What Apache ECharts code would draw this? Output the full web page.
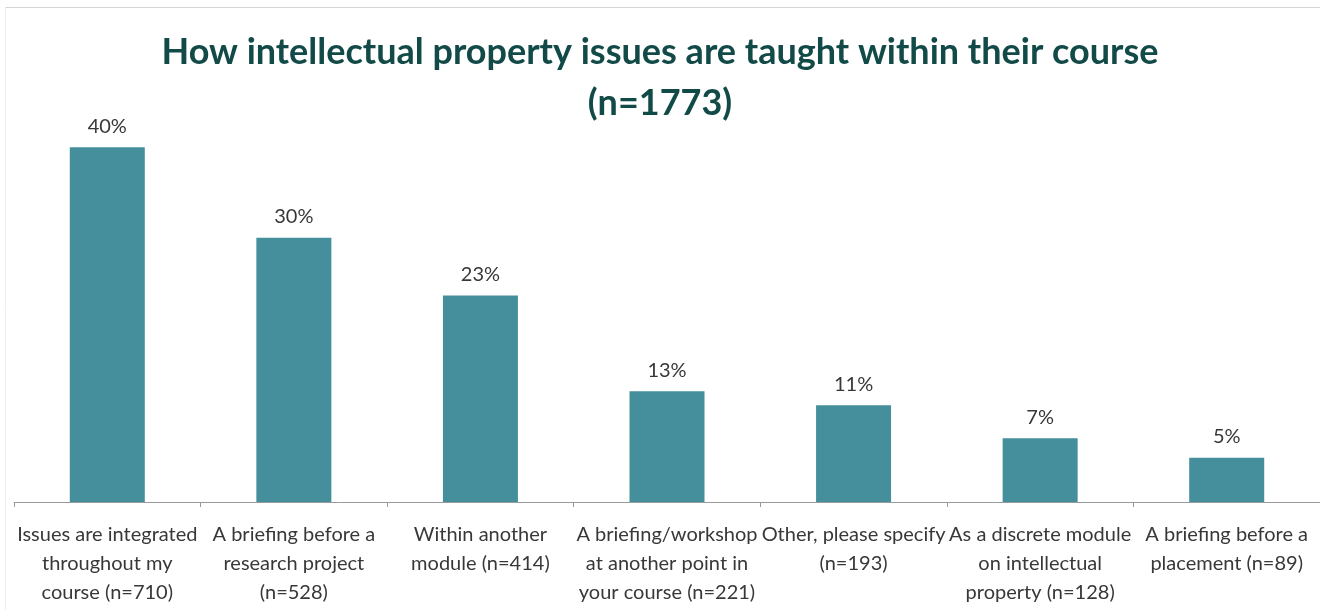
<!DOCTYPE html>
<html>
<head>
<meta charset="utf-8">
<script src="https://cdn.jsdelivr.net/npm/echarts@6/dist/echarts.min.js"></script>
<style>html,body{margin:0;padding:0;background:#fff;}#c{width:1320px;height:610px;}</style>
</head>
<body>
<div id="c"></div>
<script>
var categories = [
  'Issues are integrated\nthroughout my\ncourse (n=710)',
  'A briefing before a\nresearch project\n(n=528)',
  'Within another\nmodule (n=414)',
  'A briefing/workshop\nat another point in\nyour course (n=221)',
  'Other, please specify\n(n=193)',
  'As a discrete module\non intellectual\nproperty (n=128)',
  'A briefing before a\nplacement (n=89)'
];
var values = [40.0, 29.8, 23.3, 12.5, 10.9, 7.2, 5.0];
var titleText = 'How intellectual property issues are taught within their course\n(n=1773)';

var chart = echarts.init(document.getElementById('c'));
chart.setOption({
  backgroundColor: '#ffffff',
  animation: false,
  title: {
    text: titleText,
    left: 'center',
    top: 22,
    textStyle: {
      fontFamily: 'Lato',
      fontSize: 36,
      fontWeight: 'bold',
      color: '#124a48',
      lineHeight: 51
    }
  },
  graphic: [
    {type: 'line', shape: {x1: 5, y1: 7.5, x2: 1320, y2: 7.5}, style: {stroke: '#d4d4d4', lineWidth: 1}},
    {type: 'line', shape: {x1: 5.5, y1: 7, x2: 5.5, y2: 610}, style: {stroke: '#eeeeee', lineWidth: 1}}
  ],
  grid: {left: 14, right: 0, top: 103, bottom: 108, containLabel: false},
  xAxis: {
    type: 'category',
    data: categories,
    axisLine: {lineStyle: {color: '#9a9a9a', width: 1}},
    axisTick: {show: true, alignWithLabel: false, length: 5, inside: false, lineStyle: {color: '#9a9a9a'}},
    axisLabel: {
      interval: 0,
      margin: 18,
      fontFamily: 'Lato',
      fontSize: 20,
      lineHeight: 29,
      color: '#383838'
    }
  },
  yAxis: {
    type: 'value',
    min: 0,
    max: 45,
    show: false,
    splitLine: {show: false}
  },
  series: [{
    type: 'bar',
    data: values,
    barWidth: 75,
    itemStyle: {color: '#448f9b'},
    label: {
      show: true,
      position: 'top',
      distance: 11,
      fontFamily: 'Lato',
      fontSize: 20,
      color: '#383838',
      formatter: function (p) { return Math.round(p.value) + '%'; }
    }
  }]
});
</script>
</body>
</html>
